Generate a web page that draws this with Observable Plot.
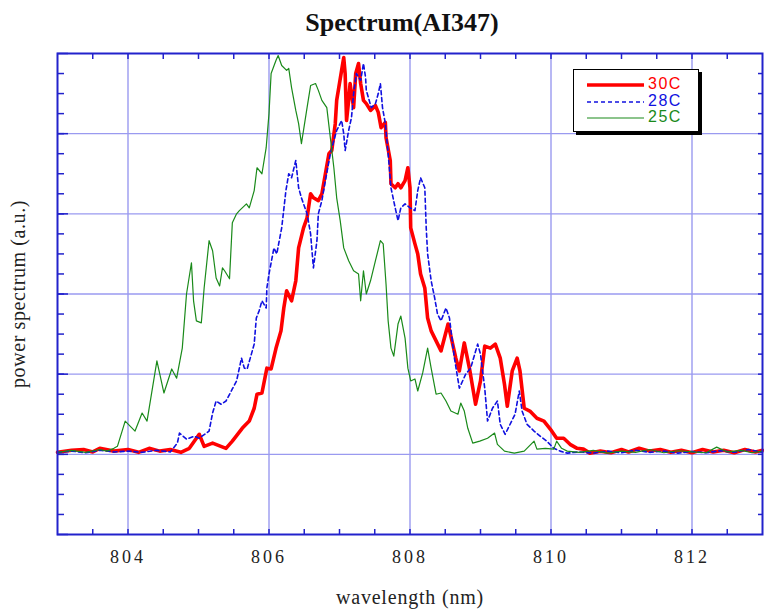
<!DOCTYPE html>
<html>
<head>
<meta charset="utf-8">
<script src="https://cdn.jsdelivr.net/npm/d3@7"></script>
<script src="https://cdn.jsdelivr.net/npm/@observablehq/plot@0.6"></script>
<style>
  html, body { margin: 0; padding: 0; background: white; }
  #wrap { position: relative; width: 764px; height: 609px; overflow: hidden; background: white; }
  #title { position: absolute; left: 40px; top: 10px; width: 724px; text-align: center;
           font: bold 26px/26px "Liberation Serif", "Times New Roman", serif; color: #111; }
  #chart { position: absolute; left: 0; top: 40px; }
  #legend { position: absolute; left: 573px; top: 69px; width: 124px; height: 61px; background: white;
            border: 1px solid #000; box-shadow: 3px 3px 0 #000; }
  #legend .row { position: absolute; left: 0; height: 16px; width: 124px; }
  #legend svg { position: absolute; left: 12px; top: 0; }
  #legend span { position: absolute; left: 74px; top: -1px; font: 16px/16px "Liberation Sans", Arial, sans-serif; letter-spacing: 1.5px; }
  g[aria-label="x-axis tick label"] { letter-spacing: 3px; }
  g[aria-label="x-axis label"] { letter-spacing: 0.8px; }
  g[aria-label="y-axis label"] { letter-spacing: 0.6px; }
</style>
</head>
<body>
<div id="wrap">
  <div id="title">Spectrum(AI347)</div>
  <div id="chart"></div>
  <div id="legend"></div>
</div>
<script>
// ---- data: [wavelength (nm), power (a.u.)] ----
const series30C = [[803.0,0.005],[803.2,0.01],[803.37,0.012],[803.5,0.006],[803.6,0.015],[803.8,0.008],[804.0,0.012],[804.15,0.005],[804.3,0.015],[804.45,0.008],[804.6,0.012],[804.75,0.005],[804.87,0.015],[805.01,0.05],[805.08,0.02],[805.2,0.028],[805.39,0.015],[805.48,0.033],[805.62,0.065],[805.72,0.083],[805.79,0.115],[805.83,0.15],[805.9,0.153],[805.97,0.215],[806.03,0.213],[806.1,0.265],[806.17,0.308],[806.21,0.365],[806.25,0.408],[806.32,0.383],[806.38,0.433],[806.42,0.515],[806.49,0.565],[806.54,0.59],[806.59,0.65],[806.63,0.64],[806.7,0.633],[806.75,0.65],[806.8,0.7],[806.85,0.75],[806.89,0.758],[806.94,0.825],[806.96,0.883],[806.99,0.915],[807.03,0.958],[807.06,0.99],[807.08,0.95],[807.1,0.833],[807.13,0.883],[807.15,0.925],[807.2,0.865],[807.23,0.95],[807.27,0.975],[807.3,0.925],[807.34,0.883],[807.38,0.875],[807.44,0.858],[807.51,0.87],[807.55,0.853],[807.59,0.815],[807.65,0.828],[807.66,0.79],[807.72,0.733],[807.73,0.675],[807.79,0.665],[807.83,0.675],[807.87,0.665],[807.93,0.683],[807.97,0.715],[808.0,0.665],[808.01,0.565],[808.07,0.525],[808.11,0.5],[808.15,0.45],[808.21,0.415],[808.25,0.34],[808.3,0.308],[808.37,0.283],[808.44,0.258],[808.54,0.325],[808.58,0.295],[808.65,0.24],[808.7,0.208],[808.77,0.278],[808.85,0.208],[808.93,0.125],[809.0,0.183],[809.06,0.27],[809.14,0.265],[809.21,0.275],[809.28,0.24],[809.34,0.175],[809.38,0.12],[809.45,0.208],[809.52,0.24],[809.56,0.208],[809.62,0.115],[809.7,0.108],[809.8,0.09],[809.9,0.083],[809.99,0.063],[810.08,0.04],[810.18,0.04],[810.27,0.025],[810.37,0.015],[810.46,0.013],[810.55,0.003],[810.7,0.008],[810.85,0.004],[811.0,0.012],[811.1,0.006],[811.25,0.015],[811.4,0.008],[811.55,0.012],[811.7,0.005],[811.85,0.01],[812.0,0.004],[812.15,0.012],[812.3,0.006],[812.45,0.01],[812.6,0.004],[812.75,0.012],[812.9,0.006],[813.0,0.01]];

const series28C = [[803.0,0.005],[803.2,0.008],[803.4,0.004],[803.6,0.01],[803.8,0.006],[804.0,0.008],[804.2,0.005],[804.4,0.01],[804.6,0.006],[804.7,0.028],[804.73,0.053],[804.83,0.038],[804.94,0.045],[805.01,0.04],[805.15,0.058],[805.2,0.103],[805.25,0.133],[805.32,0.125],[805.39,0.133],[805.48,0.163],[805.54,0.183],[805.61,0.24],[805.65,0.215],[805.69,0.213],[805.75,0.25],[805.79,0.275],[805.82,0.34],[805.86,0.358],[805.9,0.383],[805.96,0.365],[805.97,0.415],[806.0,0.45],[806.07,0.515],[806.11,0.5],[806.18,0.565],[806.24,0.658],[806.28,0.7],[806.32,0.69],[806.38,0.733],[806.42,0.665],[806.46,0.64],[806.54,0.6],[806.59,0.55],[806.63,0.465],[806.68,0.533],[806.7,0.6],[806.75,0.633],[806.8,0.683],[806.87,0.75],[806.92,0.783],[806.96,0.808],[807.03,0.833],[807.06,0.8],[807.08,0.758],[807.13,0.808],[807.17,0.84],[807.2,0.9],[807.24,0.95],[807.3,0.933],[807.34,0.975],[807.37,0.94],[807.38,0.908],[807.41,0.89],[807.45,0.865],[807.51,0.875],[807.55,0.9],[807.58,0.925],[807.61,0.865],[807.65,0.825],[807.69,0.75],[807.73,0.665],[807.79,0.615],[807.83,0.583],[807.87,0.615],[807.93,0.625],[808.0,0.615],[808.07,0.608],[808.11,0.658],[808.15,0.69],[808.21,0.665],[808.23,0.565],[808.25,0.5],[808.3,0.433],[808.35,0.39],[808.39,0.35],[808.44,0.333],[808.51,0.365],[808.56,0.34],[808.63,0.24],[808.7,0.165],[808.79,0.2],[808.86,0.215],[808.96,0.275],[809.0,0.25],[809.06,0.165],[809.1,0.083],[809.17,0.115],[809.24,0.133],[809.28,0.075],[809.35,0.05],[809.42,0.075],[809.49,0.1],[809.55,0.158],[809.59,0.108],[809.66,0.075],[809.76,0.058],[809.85,0.045],[809.94,0.033],[810.04,0.015],[810.13,0.008],[810.23,0.003],[810.4,0.006],[810.6,0.003],[810.8,0.008],[811.0,0.004],[811.2,0.01],[811.4,0.005],[811.6,0.008],[811.8,0.003],[812.0,0.007],[812.2,0.004],[812.4,0.009],[812.6,0.005],[812.8,0.012],[813.0,0.005]];

const series25C = [[803.0,0.005],[803.2,0.01],[803.4,0.005],[803.6,0.012],[803.7,0.008],[803.8,0.015],[803.85,0.02],[803.96,0.083],[804.1,0.058],[804.2,0.103],[804.27,0.083],[804.41,0.233],[804.51,0.153],[804.62,0.213],[804.69,0.19],[804.77,0.265],[804.83,0.4],[804.9,0.478],[804.93,0.383],[804.97,0.333],[805.04,0.328],[805.08,0.415],[805.15,0.533],[805.2,0.508],[805.25,0.44],[805.3,0.42],[805.34,0.465],[805.37,0.458],[805.44,0.438],[805.48,0.578],[805.54,0.6],[805.58,0.608],[805.68,0.625],[805.72,0.615],[805.79,0.658],[805.83,0.715],[805.9,0.7],[805.96,0.765],[806.0,0.85],[806.03,0.95],[806.1,0.983],[806.13,0.995],[806.18,0.97],[806.25,0.958],[806.28,0.963],[806.32,0.915],[806.38,0.858],[806.42,0.825],[806.46,0.775],[806.54,0.865],[806.59,0.92],[806.66,0.925],[806.7,0.908],[806.75,0.883],[806.82,0.865],[806.87,0.79],[806.92,0.715],[806.96,0.64],[807.01,0.583],[807.06,0.515],[807.13,0.483],[807.2,0.458],[807.27,0.45],[807.3,0.383],[807.34,0.458],[807.38,0.4],[807.44,0.433],[807.51,0.483],[807.58,0.533],[807.62,0.525],[807.66,0.425],[807.69,0.333],[807.73,0.265],[807.77,0.245],[807.83,0.325],[807.87,0.345],[807.93,0.29],[807.97,0.215],[808.01,0.183],[808.07,0.188],[808.11,0.158],[808.18,0.203],[808.25,0.265],[808.3,0.215],[808.37,0.15],[808.44,0.153],[808.51,0.133],[808.58,0.108],[808.68,0.1],[808.72,0.128],[808.77,0.108],[808.82,0.065],[808.89,0.028],[808.99,0.033],[809.1,0.04],[809.2,0.053],[809.24,0.025],[809.34,0.008],[809.48,0.003],[809.62,0.008],[809.76,0.033],[809.8,0.013],[809.92,0.015],[810.04,0.013],[810.08,0.033],[810.15,0.015],[810.23,0.008],[810.4,0.005],[810.6,0.01],[810.8,0.003],[811.0,0.008],[811.2,0.005],[811.4,0.012],[811.6,0.004],[811.8,0.009],[812.0,0.006],[812.2,0.004],[812.35,0.018],[812.5,0.006],[812.7,0.01],[812.85,0.004],[813.0,0.008]];

const seriesNames = ["30C", "28C", "25C"];
const xTickLabels = [804, 806, 808, 810, 812];
const xMinorTicks = [803.5, 804, 804.5, 805, 805.5, 806, 806.5, 807, 807.5, 808, 808.5, 809, 809.5, 810, 810.5, 811, 811.5, 812, 812.5];
const yGridValues = [0, 0.2, 0.4, 0.6, 0.8];
const yMajorTicks = [-0.2, 0, 0.2, 0.4, 0.6, 0.8, 1.0];
const yMinorTicks = [-0.15, -0.1, -0.05, 0, 0.05, 0.1, 0.15, 0.2, 0.25, 0.3, 0.35, 0.4, 0.45, 0.5, 0.55, 0.6, 0.65, 0.7, 0.75, 0.8, 0.85, 0.9, 0.95];

// ---- styles ----
const serif = "'Liberation Serif', 'Times New Roman', serif";
const frameColor = "#2222cc";
const gridColor = "#9a9af0";
const colors = {"30C": "#ff0000", "28C": "#1010e0", "25C": "#1a8a1a"};

const chart = Plot.plot({
  width: 764,
  height: 569,
  marginTop: 13,
  marginRight: 2,
  marginBottom: 75,
  marginLeft: 57,
  style: {background: "white", fontFamily: serif, color: "black", overflow: "visible"},
  x: {domain: [803, 813]},
  y: {domain: [-0.2, 1.0]},
  marks: [
    Plot.gridX(xTickLabels, {stroke: gridColor, strokeOpacity: 1, strokeWidth: 1.4}),
    Plot.gridY(yGridValues, {stroke: gridColor, strokeOpacity: 1, strokeWidth: 1.4}),
    Plot.line(series30C, {stroke: colors["30C"], strokeWidth: 3.6, strokeLinejoin: "round"}),
    Plot.line(series28C, {stroke: colors["28C"], strokeWidth: 1.6, strokeDasharray: "4,3"}),
    Plot.line(series25C, {stroke: colors["25C"], strokeWidth: 1.2}),
    Plot.axisY(yMajorTicks, {anchor: "left", tickSize: -11, fill: "none", stroke: frameColor, strokeWidth: 1.5, label: null}),
    Plot.axisY(yMinorTicks, {anchor: "left", tickSize: -7, fill: "none", stroke: frameColor, strokeWidth: 1.5, label: null}),
    Plot.axisY(yMinorTicks, {anchor: "right", tickSize: -5, fill: "none", stroke: frameColor, strokeWidth: 1.5, label: null}),
    Plot.axisX(xMinorTicks, {anchor: "bottom", tickSize: -5, fill: "none", stroke: frameColor, strokeWidth: 1.5, label: null}),
    Plot.axisX(xMinorTicks, {anchor: "top", tickSize: -5, fill: "none", stroke: frameColor, strokeWidth: 1.5, label: null}),
    Plot.axisX(xTickLabels, {anchor: "bottom", tickSize: 0, tickPadding: 16, fontSize: 18, fontFamily: serif, fontVariant: "normal", label: null, fill: "#222"}),
    Plot.axisX([], {anchor: "bottom", tickSize: 0, label: "wavelength (nm)", labelAnchor: "center", labelOffset: 69, labelArrow: "none", fontSize: 20, fontFamily: serif, fill: "#222"}),
    Plot.axisY([], {anchor: "left", tickSize: 0, label: "power spectrum (a.u.)", labelAnchor: "center", labelOffset: 47, labelArrow: "none", fontSize: 20, fontFamily: serif, fill: "#222"}),
    Plot.frame({stroke: frameColor, strokeWidth: 2})
  ]
});
document.getElementById("chart").appendChild(chart);

// ---- legend inside the plot ----
const legend = d3.select("#legend");
const dashes = {"30C": null, "28C": "4,3", "25C": null};
const widths = {"30C": 3.6, "28C": 1.6, "25C": 1.2};
seriesNames.forEach((name, i) => {
  const row = legend.append("div").attr("class", "row").style("top", (7 + i * 16.5) + "px");
  const svg = row.append("svg").attr("width", 60).attr("height", 16);
  svg.append("line").attr("x1", 1).attr("x2", 58).attr("y1", 8).attr("y2", 8)
    .attr("stroke", colors[name]).attr("stroke-width", widths[name])
    .attr("stroke-dasharray", dashes[name]);
  row.append("span").style("color", colors[name]).text(name);
});
</script>
</body>
</html>
